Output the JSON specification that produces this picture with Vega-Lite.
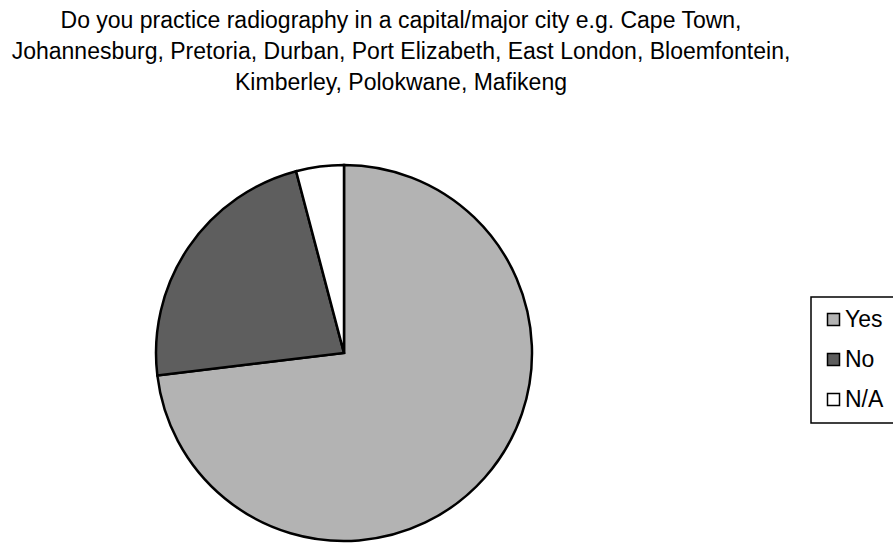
{
  "$schema": "https://vega.github.io/schema/vega-lite/v6.json",
  "autosize": {"type": "none"},
  "width": 376,
  "height": 376,
  "padding": {"left": 156, "top": 165, "right": 361, "bottom": 8},
  "background": "white",
  "config": {"view": {"stroke": null}},
  "title": {
    "text": ["Do you practice radiography in a capital/major city e.g. Cape Town,", "Johannesburg, Pretoria, Durban, Port Elizabeth, East London, Bloemfontein,", "Kimberley, Polokwane, Mafikeng"],
    "font": "Liberation Sans",
    "fontSize": 23,
    "fontWeight": "normal",
    "lineHeight": 31,
    "color": "black",
    "anchor": "middle",
    "dx": 57,
    "offset": 65
  },
  "data": {
    "values": [
      {"answer": "Yes", "percent": 73.1, "order": 1},
      {"answer": "No", "percent": 22.8, "order": 2},
      {"answer": "N/A", "percent": 4.1, "order": 3}
    ]
  },
  "mark": {"type": "arc", "stroke": "black", "strokeWidth": 2.5},
  "encoding": {
    "theta": {"field": "percent", "type": "quantitative", "stack": true},
    "order": {"field": "order", "type": "quantitative"},
    "color": {
      "field": "answer",
      "type": "nominal",
      "scale": {"domain": ["Yes", "No", "N/A"], "range": ["#b3b3b3", "#5e5e5e", "#ffffff"]},
      "legend": {
        "title": null,
        "orient": "none",
        "legendX": 655,
        "legendY": 132,
        "symbolType": "square",
        "symbolSize": 144,
        "symbolStrokeColor": "black",
        "symbolStrokeWidth": 1.5,
        "labelFont": "Liberation Sans",
        "labelFontSize": 23,
        "labelColor": "black",
        "labelOffset": 0,
        "rowPadding": 16,
        "padding": 11,
        "strokeColor": "black",
        "fillColor": "white",
        "encode": {"legend": {"update": {"strokeWidth": {"value": 1.5}}}}
      }
    }
  }
}
